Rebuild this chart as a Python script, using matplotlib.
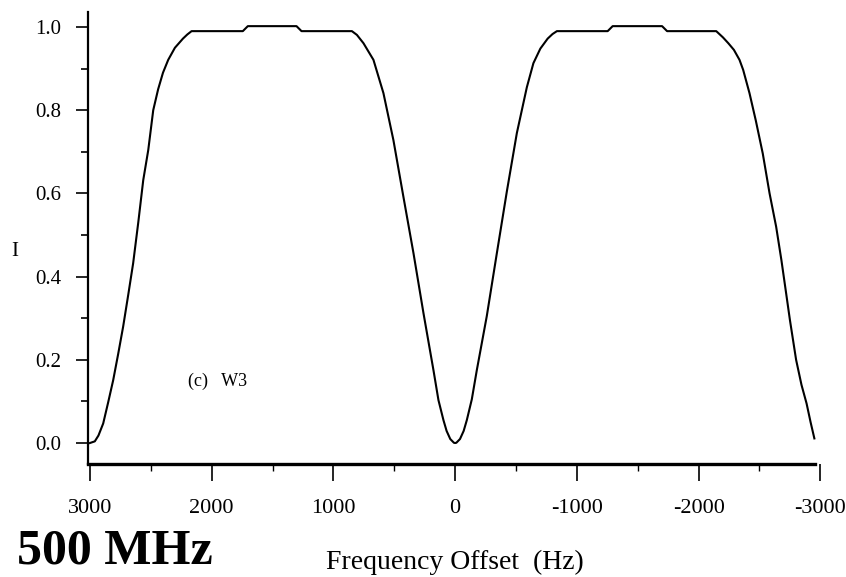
import matplotlib
matplotlib.use('Agg')
import matplotlib.pyplot as plt
from matplotlib.ticker import MultipleLocator

plt.rcParams['font.family'] = ['Liberation Serif', 'DejaVu Serif']

# frequency offset (Hz) vs intensity I
freq = [3000, 2960, 2930, 2891, 2850, 2809, 2768, 2727, 2686, 2645, 2603, 2562,
        2521, 2480, 2440, 2400, 2357, 2302, 2236, 2200, 2165,
        1744, 1703, 1303, 1262,
        848, 807, 753, 671, 589, 507, 425, 342, 260, 178, 137, 96, 70, 40, 10, 0,
        -10, -40, -70, -96, -137, -178, -260, -342, -425, -507, -589, -643, -700, -760, -800, -836,
        -1253, -1294, -1700, -1741,
        -2145, -2200, -2244, -2290, -2336, -2366, -2418, -2470, -2527, -2583, -2637,
        -2680, -2719, -2750, -2801, -2845, -2887, -2920, -2951]
intensity = [0.0, 0.004, 0.018, 0.047, 0.098, 0.151, 0.214, 0.28, 0.355, 0.432, 0.53, 0.632,
             0.704, 0.80, 0.85, 0.89, 0.921, 0.950, 0.972, 0.982, 0.99,
             0.99, 1.002, 1.002, 0.99,
             0.99, 0.981, 0.961, 0.921, 0.841, 0.728, 0.592, 0.456, 0.312, 0.175, 0.103, 0.055, 0.029, 0.0096, 0.0006, 0.0,
             0.0006, 0.0096, 0.029, 0.055, 0.105, 0.175, 0.305, 0.455, 0.605, 0.745, 0.855, 0.913, 0.948, 0.972, 0.983, 0.99,
             0.99, 1.002, 1.002, 0.99,
             0.99, 0.975, 0.961, 0.945, 0.921, 0.897, 0.841, 0.775, 0.696, 0.6, 0.52,
             0.44, 0.36, 0.296, 0.2, 0.14, 0.095, 0.05, 0.011]

x_ticks = [3000, 2000, 1000, 0, -1000, -2000, -3000]
x_ticklabels = ['3000', '2000', '1000', '0', '-1000', '-2000', '-3000']
y_ticks = [0.0, 0.2, 0.4, 0.6, 0.8, 1.0]
y_ticklabels = ['0.0', '0.2', '0.4', '0.6', '0.8', '1.0']

fig = plt.figure(figsize=(8.46, 5.77), dpi=100)
ax = fig.add_axes([0.104, 0.1958, 0.8671, 0.7834])

ax.plot(freq, intensity, color='black', linewidth=1.5)

ax.set_xlim(3016, -3010)
ax.set_ylim(-0.0505, 1.036)

ax.spines['top'].set_visible(False)
ax.spines['right'].set_visible(False)
ax.spines['left'].set_linewidth(1.6)
ax.spines['bottom'].set_linewidth(2.4)
ax.spines['bottom'].set_bounds(3016, -2960)

ax.set_xticks(x_ticks)
ax.set_xticklabels(x_ticklabels)
ax.set_yticks(y_ticks)
ax.set_yticklabels(y_ticklabels)
ax.xaxis.set_minor_locator(MultipleLocator(500))
ax.yaxis.set_minor_locator(MultipleLocator(0.1))

ax.tick_params(axis='x', which='major', direction='out', length=12, width=1.2, pad=13, labelsize=16)
ax.tick_params(axis='x', which='minor', direction='out', length=5, width=1.0)
ax.tick_params(axis='y', which='major', direction='out', length=9, width=1.2, pad=10, labelsize=15)
ax.tick_params(axis='y', which='minor', direction='out', length=5, width=1.2)

ax.text(2195, 0.149, '(c)   W3', fontsize=13, ha='left', va='center')

fig.text(15 / 846, 1 - 252 / 577, 'I', fontsize=15, ha='center', va='center')
fig.text(455 / 846, 0.003, 'Frequency Offset  (Hz)', fontsize=20, ha='center', va='bottom')
fig.text(17 / 846, 0.004, '500 MHz', fontsize=36, fontweight='bold', ha='left', va='bottom')

fig.savefig('out.png', dpi=100, facecolor='white')
